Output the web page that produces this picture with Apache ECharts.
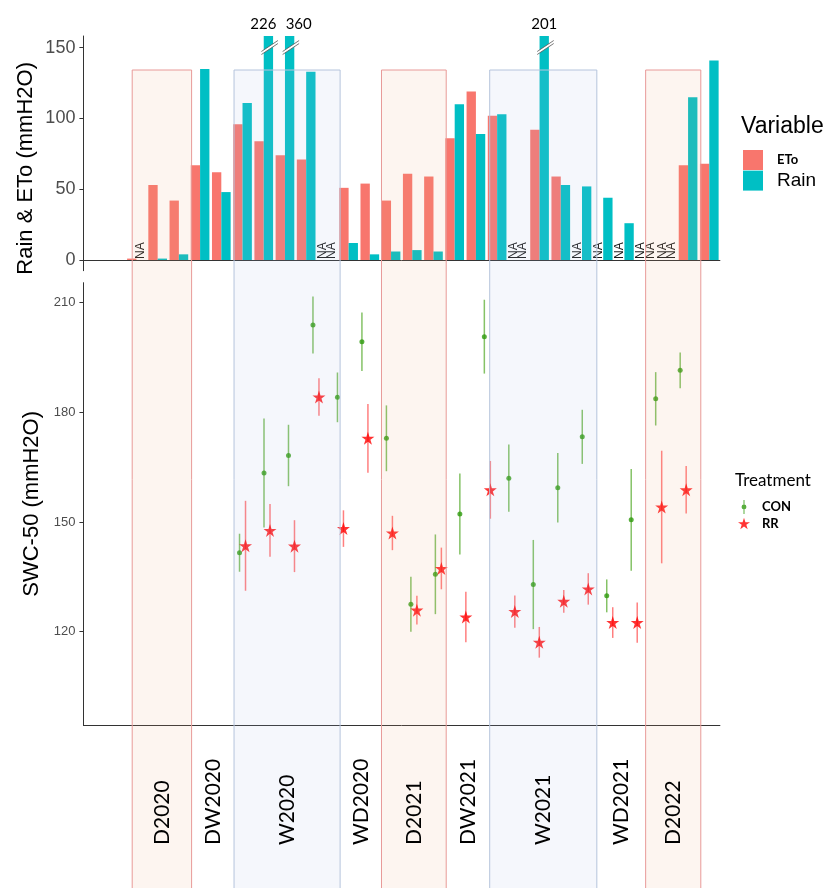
<!DOCTYPE html>
<html>
<head>
<meta charset="utf-8">
<title>Rain, ETo and SWC-50</title>
<script src="https://cdn.jsdelivr.net/npm/echarts@6/dist/echarts.min.js"></script>
<style>
  html, body { margin: 0; padding: 0; background: #fff; }
  #chart { width: 832px; height: 888px; }
</style>
</head>
<body>
<div id="chart"></div>
<script>
// months of the upper panel
var months = ['2020-04', '2020-05', '2020-06', '2020-07', '2020-08', '2020-09', '2020-10', '2020-11', '2020-12', '2021-01',
              '2021-02', '2021-03', '2021-04', '2021-05', '2021-06', '2021-07', '2021-08', '2021-09', '2021-10', '2021-11',
              '2021-12', '2022-01', '2022-02', '2022-03', '2022-04', '2022-05', '2022-06', '2022-07', '2022-08', '2022-09'];
// monthly sums (mmH2O), 'NA' = not available, null = nothing drawn
var eto  = [null, null, 1, 53, 42, 67, 62, 96, 84, 74, 71, 'NA', 51, 54, 42, 61, 59, 86, 119, 102, 'NA', 92, 59, 'NA', 'NA', 'NA', 'NA', 'NA', 67, 68];
var rain = [null, null, 'NA', 1, 4, 135, 48, 111, 226, 360, 133, 'NA', 12, 4, 6, 7, 6, 110, 89, 103, 'NA', 201, 53, 52, 44, 26, 'NA', 'NA', 115, 141];
var rainTicks = [0, 50, 100, 150];

// SWC-50 sampling dates of the lower panel
var samples = ['S01', 'S02', 'S03', 'S04', 'S05', 'S06', 'S07', 'S08', 'S09', 'S10', 'S11', 'S12', 'S13',
               'S14', 'S15', 'S16', 'S17', 'S18', 'S19', 'S20', 'S21', 'S22', 'S23', 'S24', 'S25', 'S26'];
var conMean = [null, null, null, null, null, null, 141.6, 163.4, 168.2, 203.9, 184.1, 199.3, 172.9,
               127.5, 135.7, 152.2, 200.7, 162.0, 132.9, 159.4, 173.3, 129.8, 150.6, 183.7, 191.5, null];
var conSe   = [null, null, null, null, null, null, 5.2, 14.9, 8.4, 7.8, 6.8, 8.0, 9.0,
               7.5, 10.9, 11.1, 10.1, 9.2, 12.2, 9.5, 7.4, 4.5, 13.9, 7.3, 4.9, null];
var rrMean  = [null, null, null, null, null, null, 143.5, 147.7, 143.4, 184.2, 148.2, 172.9, 147.0,
               125.9, 137.3, 124.0, 158.8, 125.5, 117.1, 128.3, 131.7, 122.5, 122.5, 154.1, 158.8, null];
var rrSe    = [null, null, null, null, null, null, 12.3, 7.2, 7.1, 5.1, 5.0, 9.4, 4.7,
               3.9, 5.7, 6.9, 7.9, 4.4, 4.2, 3.1, 4.3, 4.2, 5.5, 15.4, 6.5, null];
var swcTicks = [120, 150, 180, 210];

// seasons, bounds in month units (1 = first month)
var periodNames  = ['D2020', 'DW2020', 'W2020', 'WD2020', 'D2021', 'DW2021', 'W2021', 'WD2021', 'D2022'];
var periodStart  = [2.8, 5.6, 7.6, 12.6, 14.55, 17.6, 19.65, 24.7, 27.0];
var periodEnd    = [5.6, 7.6, 12.6, 14.55, 17.6, 19.65, 24.7, 27.0, 29.6];
var periodSeason = ['dry', '', 'wet', '', 'dry', '', 'wet', '', 'dry'];

var RAIN_MAX = 158.3;
var LEFT = 83.4, RIGHT = 112.1;
var BAR_SHARE = 0.44;
var STAR = 'path://M50,0L61.2,34.5L97.6,34.5L68.2,55.9L79.4,90.5L50,69.1L20.6,90.5L31.8,55.9L2.4,34.5L38.8,34.5Z';
var PIN = 'path://M4.3,0L5.7,0L5.7,20L4.3,20ZM8.5,10A3.5,3.5,0,1,1,1.5,10A3.5,3.5,0,1,1,8.5,10Z';

function num(v) { return (v === 'NA') ? null : v; }
function broken(i) { return typeof rain[i] === 'number' && rain[i] > RAIN_MAX; }

var naItems = [];
var breakItems = [];
months.forEach(function (m, i) {
  if (eto[i] === 'NA') naItems.push([i, 0]);
  if (rain[i] === 'NA') naItems.push([i, 1]);
  if (broken(i)) breakItems.push([i, rain[i]]);
});

function pts(means) {
  var out = [];
  means.forEach(function (v, i) { if (v != null) out.push([i, v]); });
  return out;
}
function bars(means, se) {
  var out = [];
  means.forEach(function (v, i) { if (v != null) out.push([i, v - se[i], v + se[i]]); });
  return out;
}
function errRender(dx, color) {
  return function (params, api) {
    var a = api.coord([api.value(0), api.value(1)]);
    var b = api.coord([api.value(0), api.value(2)]);
    return {
      type: 'line',
      shape: { x1: a[0] + dx, y1: a[1], x2: b[0] + dx, y2: b[1] },
      style: { stroke: color, lineWidth: 1.5 }
    };
  };
}

var periodData = periodNames.map(function (n, i) { return [periodStart[i], periodEnd[i], i]; });

var chart = echarts.init(document.getElementById('chart'));
chart.setOption({
  animation: false,
  backgroundColor: '#fff',
  textStyle: { fontFamily: 'Liberation Sans' },
  title: [
    { text: 'Variable', left: 741, top: 115, padding: 0,
      textStyle: { fontSize: 23, fontWeight: 'normal', color: '#000', fontFamily: 'Liberation Sans' } },
    { text: 'Treatment', left: 735, top: 472, padding: 0,
      textStyle: { fontSize: 17, fontWeight: 'normal', color: '#000', fontFamily: 'Lato' } }
  ],
  legend: [
    {
      orient: 'vertical', left: 743, top: 150, padding: 0,
      itemWidth: 20, itemHeight: 20, itemGap: 0.6, icon: 'rect', selectedMode: false,
      textStyle: { color: '#000', padding: [0, 0, 0, 9] },
      data: [
        { name: 'ETo', textStyle: { fontWeight: 'bold', fontSize: 13, fontFamily: 'Lato' } },
        { name: 'Rain', textStyle: { fontSize: 19, fontFamily: 'Liberation Sans' } }
      ]
    },
    {
      orient: 'vertical', left: 738, top: 500, padding: 0,
      itemWidth: 12, itemHeight: 14, itemGap: 3, selectedMode: false,
      textStyle: { color: '#000', fontWeight: 'bold', fontSize: 13, fontFamily: 'Lato', padding: [0, 0, 0, 7] },
      data: [ { name: 'CON', icon: PIN }, { name: 'RR', icon: STAR } ]
    }
  ],
  grid: [
    { left: LEFT, right: RIGHT, top: 36, height: 234.7, outerBoundsMode: 'none' },
    { left: LEFT, right: RIGHT, top: 282.7, height: 442.3, outerBoundsMode: 'none' },
    { left: LEFT, right: RIGHT, top: 70, bottom: 0, outerBoundsMode: 'none' }
  ],
  xAxis: [
    { type: 'category', gridIndex: 0, data: months,
      axisLine: { lineStyle: { color: '#333', width: 1 } },
      axisTick: { alignWithLabel: true, length: 4, lineStyle: { color: '#333' } },
      axisLabel: { show: false }, splitLine: { show: false } },
    { type: 'category', gridIndex: 1, data: months,
      axisLine: { lineStyle: { color: '#333', width: 1 } },
      axisTick: { alignWithLabel: true, length: 4, lineStyle: { color: '#333' } },
      axisLabel: { show: false }, splitLine: { show: false } },
    { type: 'category', gridIndex: 1, data: samples, show: false },
    { type: 'value', gridIndex: 2, min: 0.5, max: 30.5, show: false }
  ],
  yAxis: [
    { type: 'value', gridIndex: 0, min: -7.56, max: RAIN_MAX,
      name: 'Rain & ETo (mmH2O)', nameLocation: 'middle', nameGap: 46, nameMoveOverlap: false,
      nameTextStyle: { fontSize: 22, color: '#000', fontFamily: 'Liberation Sans', padding: [0, 30, 0, 0] },
      axisLine: { show: true, lineStyle: { color: '#333', width: 1 } },
      axisTick: { show: true, length: 4, customValues: rainTicks, lineStyle: { color: '#333' } },
      axisLabel: { customValues: rainTicks, fontSize: 18, color: '#4d4d4d', margin: 8 },
      splitLine: { show: false } },
    { type: 'value', gridIndex: 1, min: 94.48, max: 215.46,
      name: 'SWC-50 (mmH2O)', nameLocation: 'middle', nameGap: 40, nameMoveOverlap: false,
      nameTextStyle: { fontSize: 22, color: '#000', fontFamily: 'Liberation Sans' },
      axisLine: { show: true, lineStyle: { color: '#333', width: 1 } },
      axisTick: { show: true, length: 4, customValues: swcTicks, lineStyle: { color: '#333' } },
      axisLabel: { customValues: swcTicks, fontSize: 13, color: '#4d4d4d', margin: 8 },
      splitLine: { show: false } },
    { type: 'value', gridIndex: 2, min: 0, max: 1, show: false }
  ],
  series: [
    { name: 'ETo', type: 'bar', xAxisIndex: 0, yAxisIndex: 0, data: eto.map(num),
      barWidth: (BAR_SHARE * 100) + '%', barGap: '0%', itemStyle: { color: '#F8766D' } },
    { name: 'Rain', type: 'bar', xAxisIndex: 0, yAxisIndex: 0, data: rain.map(num),
      barWidth: (BAR_SHARE * 100) + '%', itemStyle: { color: '#00BFC4' } },
    { name: 'NA', type: 'custom', xAxisIndex: 0, yAxisIndex: 0, data: naItems, z: 4,
      renderItem: function (params, api) {
        var p = api.coord([api.value(0), 0]);
        var bw = api.size([1, 0])[0] * BAR_SHARE;
        return {
          type: 'text', x: p[0] + (api.value(1) === 0 ? -bw / 2 : bw / 2), y: p[1] - 1,
          rotation: Math.PI / 2,
          style: { text: 'NA', fill: '#1a1a1a', font: '12px "Liberation Sans"', textAlign: 'left', textVerticalAlign: 'middle' }
        };
      } },
    { name: 'breaks', type: 'custom', xAxisIndex: 0, yAxisIndex: 0, data: breakItems, z: 4,
      renderItem: function (params, api) {
        var i = api.value(0);
        var p = api.coord([i, RAIN_MAX]);
        var bw = api.size([1, 0])[0] * BAR_SHARE;
        var xc = p[0] + bw / 2, t = p[1];
        // neighbouring broken bars: push the two numbers apart
        var tx = xc, align = 'center';
        if (broken(i + 1)) { tx = xc + 8; align = 'right'; }
        else if (broken(i - 1)) { tx = xc - 4; align = 'left'; }
        return {
          type: 'group',
          children: [
            { type: 'polygon', shape: { points: [[xc - 7, t + 15.5], [xc + 9.5, t + 4.5], [xc + 9.5, t + 7.5], [xc - 7, t + 18.5]] },
              style: { fill: '#fff' } },
            { type: 'line', shape: { x1: xc - 7, y1: t + 15.5, x2: xc + 9.5, y2: t + 4.5 }, style: { stroke: '#555', lineWidth: 0.8 } },
            { type: 'line', shape: { x1: xc - 7, y1: t + 18.5, x2: xc + 9.5, y2: t + 7.5 }, style: { stroke: '#555', lineWidth: 0.8 } },
            { type: 'text', x: tx, y: t - 12,
              style: { text: String(api.value(1)), fill: '#000', font: '15px Lato', textAlign: align, textVerticalAlign: 'middle' } }
          ]
        };
      } },
    { name: 'CON se', type: 'custom', xAxisIndex: 2, yAxisIndex: 1, data: bars(conMean, conSe),
      encode: { x: 0, y: [1, 2] }, z: 3, renderItem: errRender(-3, 'rgba(51,153,0,0.6)') },
    { name: 'RR se', type: 'custom', xAxisIndex: 2, yAxisIndex: 1, data: bars(rrMean, rrSe),
      encode: { x: 0, y: [1, 2] }, z: 3, renderItem: errRender(3, 'rgba(255,0,0,0.5)') },
    { name: 'CON', type: 'scatter', xAxisIndex: 2, yAxisIndex: 1, data: pts(conMean),
      symbol: 'circle', symbolSize: 5, symbolOffset: [-3, 0], itemStyle: { color: '#2E9A0C' }, z: 5 },
    { name: 'RR', type: 'scatter', xAxisIndex: 2, yAxisIndex: 1, data: pts(rrMean),
      symbol: STAR, symbolSize: 13, symbolOffset: [3, 0], itemStyle: { color: '#FF0000' }, z: 5 },
    { name: 'seasons', type: 'custom', xAxisIndex: 3, yAxisIndex: 2, data: periodData, z: 10, silent: true,
      renderItem: function (params, api) {
        var c = params.coordSys;
        var i = api.value(2);
        var x0 = api.coord([api.value(0), 0])[0];
        var x1 = api.coord([api.value(1), 0])[0];
        var kids = [];
        if (periodSeason[i] === 'dry') {
          kids.push({ type: 'rect', shape: { x: x0, y: c.y, width: x1 - x0, height: c.height + 4 },
            style: { fill: 'rgba(238,172,130,0.12)', stroke: '#E89A98', lineWidth: 1 } });
        } else if (periodSeason[i] === 'wet') {
          kids.push({ type: 'rect', shape: { x: x0, y: c.y, width: x1 - x0, height: c.height + 4 },
            style: { fill: 'rgba(172,188,230,0.12)', stroke: '#B5C4DC', lineWidth: 1 } });
        }
        kids.push({ type: 'text', x: (x0 + x1) / 2, y: c.y + c.height - 43, rotation: Math.PI / 2,
          style: { text: periodNames[i], fill: '#000', font: '21px Lato', textAlign: 'left', textVerticalAlign: 'middle' } });
        return { type: 'group', children: kids };
      } }
  ]
});
</script>
</body>
</html>
